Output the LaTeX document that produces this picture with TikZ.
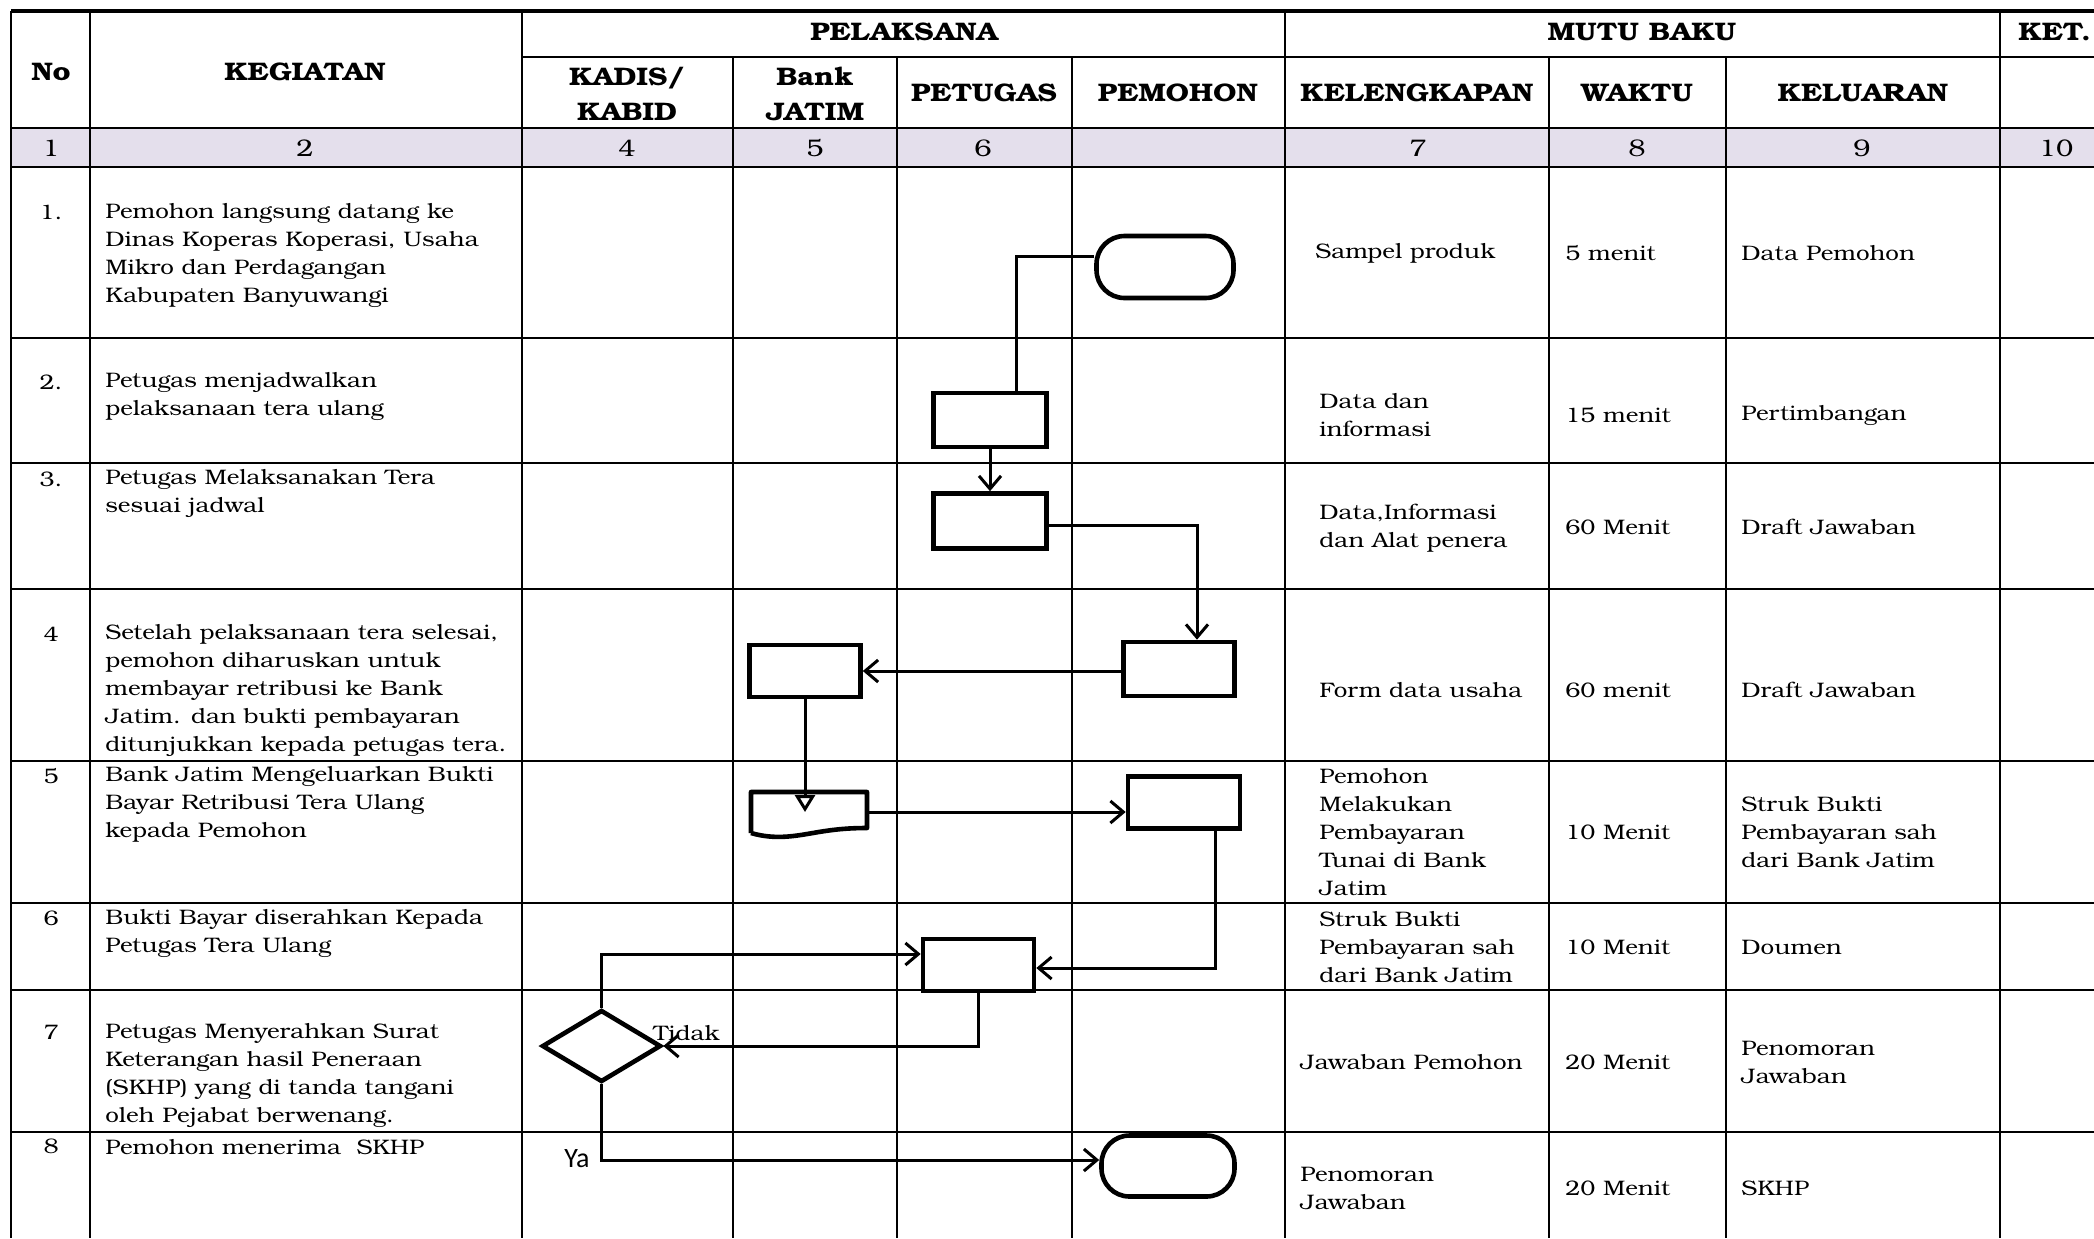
\documentclass[tikz,border=0pt]{standalone}
\usepackage{fontspec}
\setmainfont[FakeStretch=1.15]{TeX Gyre Bonum}
\newfontfamily\calib{Carlito}
\usetikzlibrary{arrows.meta,shapes.geometric}
\definecolor{numfill}{RGB}{228,223,236}
\tikzset{
  grid/.style={line width=1pt,black},
  hgrid/.style={line width=1.3pt,black},
  hd/.style={font=\fontsize{12.7}{17.5}\selectfont\bfseries, inner sep=0pt, align=center},
  num/.style={font=\fontsize{10.5}{14}\selectfont, inner sep=0pt},
  bignum/.style={font=\fontsize{12}{14}\selectfont, inner sep=0pt},
  cell/.style={font=\fontsize{10.5}{14}\selectfont, inner sep=0pt, align=left, anchor=west},
  proc/.style={draw, line width=2.3pt, rectangle, inner sep=0pt, minimum width=#1},
  proc/.default=56pt,
  term/.style={draw, line width=2.3pt, rectangle, rounded corners=14pt, inner sep=0pt},
  decis/.style={draw, line width=2.3pt, diamond, inner sep=0pt, minimum width=59.5pt, minimum height=36pt},
  conn/.style={line width=1.5pt},
  arr/.style={conn, -{Straight Barb[length=6.5pt,width=11pt]}},
  arrtri/.style={conn, -{Triangle[open,length=8.5pt,width=10pt,line width=1.5pt]}},
}
\begin{document}
\begin{tikzpicture}[x=0.5pt,y=-0.5pt]
\useasboundingbox (0,0) rectangle (2094,1238);
\clip (0,0) rectangle (2094,1238);
\fill[white] (0,0) rectangle (2094,1238);
% number row fill
\fill[numfill] (11,128) rectangle (2094,167);
% horizontal lines
\draw[line width=1.6pt] (11,11) -- (2094,11);
\draw[hgrid] (522,57) -- (2094,57);
\foreach \yy in {128,167,338,463,589,761,903,990,1132}
  \draw[hgrid] (11,\yy) -- (2094,\yy);
% vertical lines
\draw[line width=1.4pt] (11,11) -- (11,1238);
\foreach \xx in {90,522,1285,2000}
  \draw[grid] (\xx,11) -- (\xx,1238);
\foreach \xx in {733,897,1072,1549,1726}
  \draw[grid] (\xx,57) -- (\xx,1238);

% headers
\node[hd] (hNo) at (51,72) {No};
\node[hd] (hKeg) at (305,72) {KEGIATAN};
\node[hd] (hPel) at (904,32) {PELAKSANA};
\node[hd] (hMutu) at (1642,32) {MUTU BAKU};
\node[hd,anchor=west] (hKet) at (2018,32) {KET.};
\node[hd] (hKadis) at (627,94) {KADIS/\\KABID};
\node[hd] (hBank) at (815,94) {Bank\\JATIM};
\node[hd] (hPet) at (984,93) {PETUGAS};
\node[hd] (hPem) at (1178,93) {PEMOHON};
\node[hd] (hKel) at (1417,93) {KELENGKAPAN};
\node[hd] (hWak) at (1637,93) {WAKTU};
\node[hd] (hKelu) at (1863,93) {KELUARAN};

% number row
\node[bignum] (n1) at (51,148) {1};
\node[bignum] (n2) at (305,148) {2};
\node[bignum] (n4) at (627,148) {4};
\node[bignum] (n5) at (815,148) {5};
\node[bignum] (n6) at (983,148) {6};
\node[bignum] (n7) at (1418,148) {7};
\node[bignum] (n8) at (1637,148) {8};
\node[bignum] (n9) at (1862,148) {9};
\node[bignum] (n10) at (2056,148) {10};

% row numbers
\node[num] (r1) at (51,212) {1.};
\node[num] (r2) at (51,382) {2.};
\node[num] (r3) at (51,479) {3.};
\node[num] (r4) at (51,634) {4};
\node[num] (r5) at (51,776) {5};
\node[num] (r6) at (51,918) {6};
\node[num] (r7) at (51,1032) {7};
\node[num] (r8) at (51,1146) {8};

% kegiatan
\node[cell] (k1) at (105,255) {Pemohon langsung datang ke\\Dinas Koperas Koperasi, Usaha\\Mikro dan Perdagangan\\Kabupaten Banyuwangi};
\node[cell] (k2) at (105,396) {Petugas menjadwalkan\\pelaksanaan tera ulang};
\node[cell] (k3) at (105,493) {Petugas Melaksanakan Tera\\sesuai jadwal};
\node[cell] (k4) at (105,690) {Setelah pelaksanaan tera selesai,\\pemohon diharuskan untuk\\membayar retribusi ke Bank\\Jatim. dan bukti pembayaran\\ditunjukkan kepada petugas tera.};
\node[cell] (k5) at (105,804) {Bank Jatim Mengeluarkan Bukti\\Bayar Retribusi Tera Ulang\\kepada Pemohon};
\node[cell] (k6) at (105,933) {Bukti Bayar diserahkan Kepada\\Petugas Tera Ulang};
\node[cell] (k7) at (105,1075) {Petugas Menyerahkan Surat\\Keterangan hasil Peneraan\\(SKHP) yang di tanda tangani\\oleh Pejabat berwenang.};
\node[cell] (k8) at (105,1147) {Pemohon menerima\ \ SKHP};

% kelengkapan
\node[cell] (l1) at (1315,253) {Sampel produk};
\node[cell] (l2) at (1319,415) {Data dan\\informasi};
\node[cell] (l3) at (1319,528) {Data,Informasi\\dan Alat penera};
\node[cell] (l4) at (1319,690) {Form data usaha};
\node[cell] (l5) at (1319,832) {Pemohon\\Melakukan\\Pembayaran\\Tunai di Bank\\Jatim};
\node[cell] (l6) at (1319,947) {Struk Bukti\\Pembayaran sah\\dari Bank Jatim};
\node[cell] (l7) at (1300,1062) {Jawaban Pemohon};
\node[cell] (l8) at (1300,1188) {Penomoran\\Jawaban};

% waktu
\node[cell] (w1) at (1565,253) {5 menit};
\node[cell] (w2) at (1565,415) {15 menit};
\node[cell] (w3) at (1565,527) {60 Menit};
\node[cell] (w4) at (1565,690) {60 menit};
\node[cell] (w5) at (1565,832) {10 Menit};
\node[cell] (w6) at (1565,947) {10 Menit};
\node[cell] (w7) at (1565,1062) {20 Menit};
\node[cell] (w8) at (1565,1188) {20 Menit};

% keluaran
\node[cell] (o1) at (1741,253) {Data Pemohon};
\node[cell] (o2) at (1741,415) {Pertimbangan};
\node[cell] (o3) at (1741,527) {Draft Jawaban};
\node[cell] (o4) at (1741,690) {Draft Jawaban};
\node[cell] (o5) at (1741,832) {Struk Bukti\\Pembayaran sah\\dari Bank Jatim};
\node[cell] (o6) at (1741,947) {Doumen};
\node[cell] (o7) at (1741,1062) {Penomoran\\Jawaban};
\node[cell] (o8) at (1741,1188) {SKHP};

% flow shapes
\node[term, minimum width=68.5pt, minimum height=31pt] (t1) at (1165,267) {};
\node[proc=56.5pt, minimum height=27pt] (p2) at (990,420) {};
\node[proc=56.5pt, minimum height=27.5pt] (p3) at (990,521) {};
\node[proc=55.5pt, minimum height=27pt] (p4) at (1179,669) {};
\node[proc=55.5pt, minimum height=26pt] (b4) at (805,671) {};
\node[inner sep=0pt, minimum width=58pt, minimum height=20pt] (doc) at (809,812) {};
\draw[line width=2.3pt, line join=round] (751,833) -- (751,792) -- (867,792) -- (867,828)
   .. controls (845,828) and (830,830) .. (813,833)
   .. controls (795,836) and (775,840) .. (751,833);
\node[proc=56pt, minimum height=26pt] (p5) at (1184,802.5) {};
\node[proc=55.5pt, minimum height=26pt] (p6) at (978.5,965) {};
\node[decis] (d7) at (601.5,1046) {};
\node[term, minimum width=66.5pt, minimum height=30.5pt] (t8) at (1168,1166) {};

% labels
\node[cell, anchor=base west] (lTidak) at (653,1040) {Tidak};
\node[font=\calib\fontsize{14}{16}\selectfont, inner sep=0pt, anchor=base west] (lYa) at (564,1167) {Ya};

% connectors
\draw[conn] ([yshift=5.5pt]t1.west) -| ([xshift=13pt]p2.north);
\draw[arr] (p2.south) -- (p3.north);
\draw[arr] ([yshift=-2pt]p3.east) -| ([xshift=9pt]p4.north);
\draw[arr] (p4.west |- b4.east) -- (b4.east);
\draw[arrtri] (b4.south) -- (b4.south |- doc.center);
\draw[arr] (doc.center -| 867,0) -- (doc.center -| p5.west);
\draw[arr] ([xshift=15.5pt]p5.south) |- ([yshift=-1.5pt]p6.east);
\draw[arr] (d7.north) |- ([yshift=5.5pt]p6.west);
\draw[arr] (p6.south) |- (d7.east);
\draw[arr] (d7.south) |- ([yshift=3pt]t8.west);
\end{tikzpicture}
\end{document}
